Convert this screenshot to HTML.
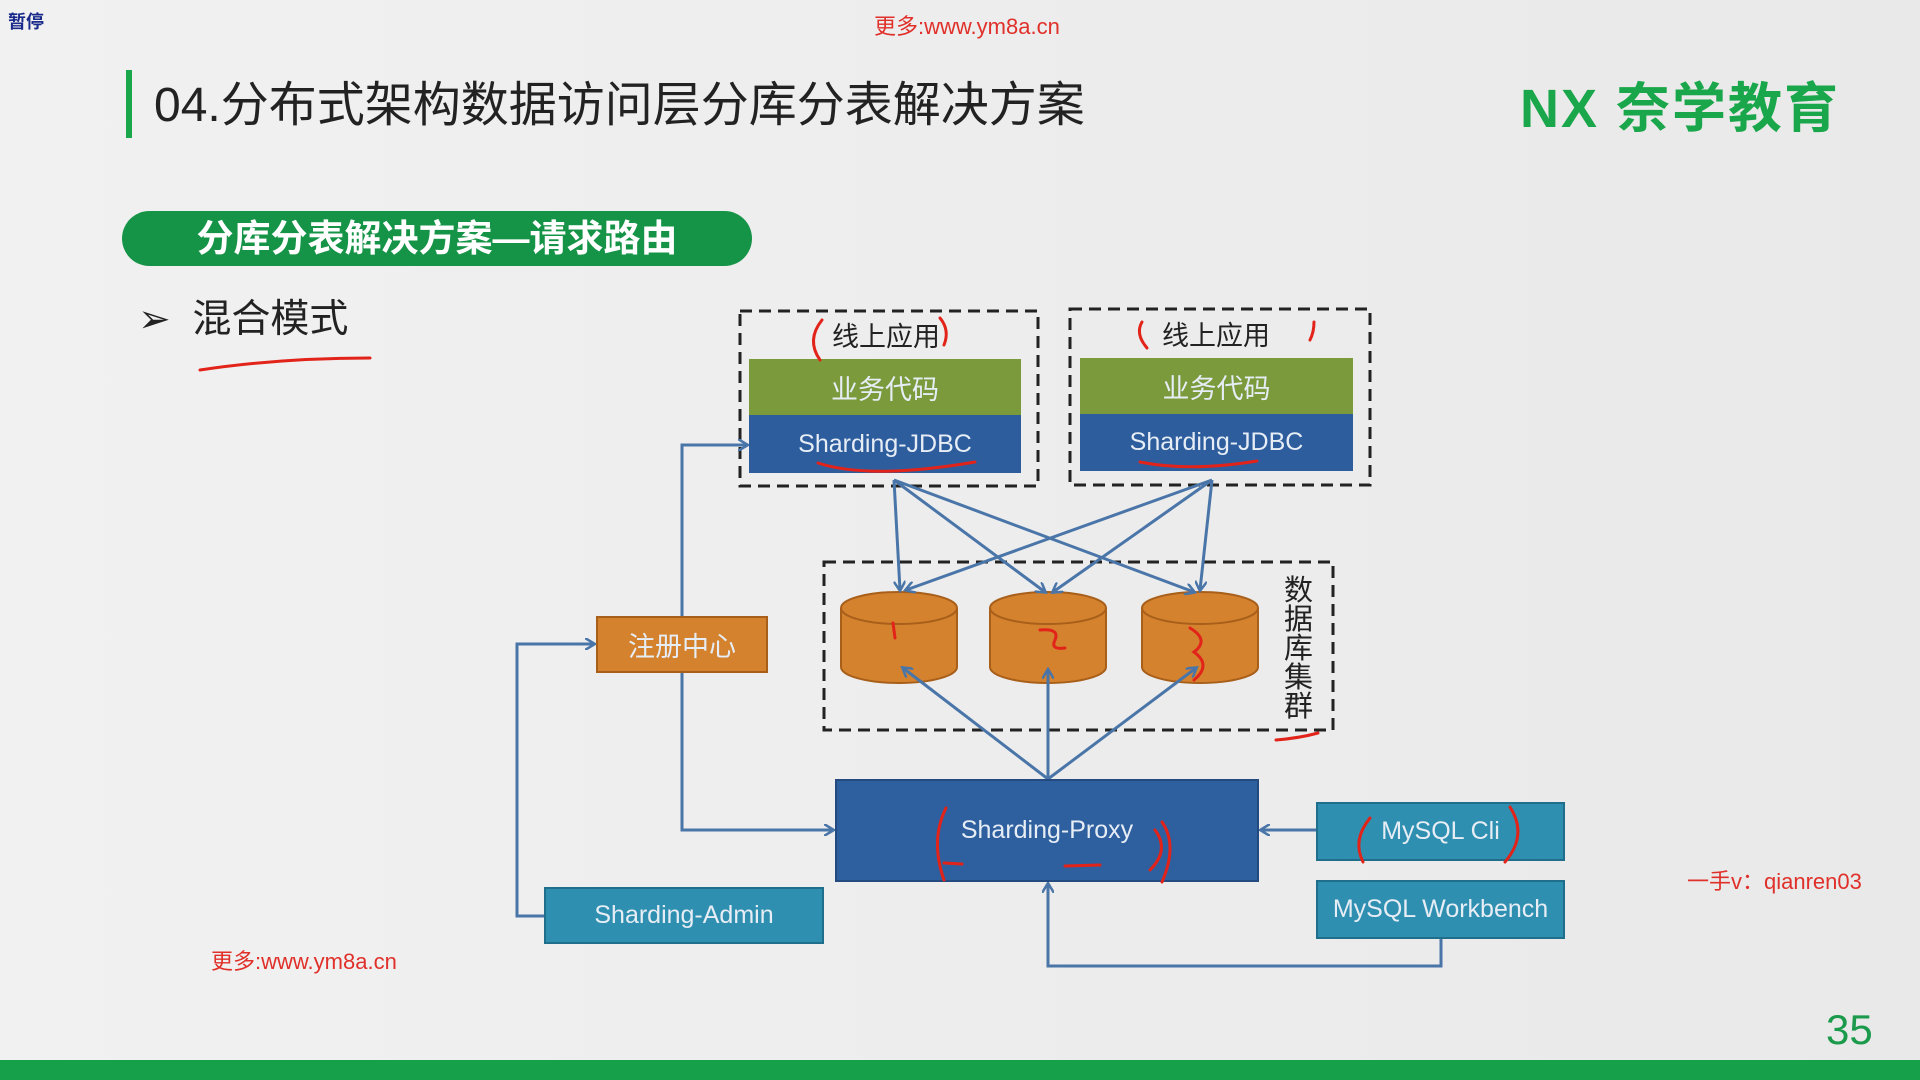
<!DOCTYPE html>
<html><head><meta charset="utf-8"><style>
body{margin:0;width:1920px;height:1080px;overflow:hidden;background:linear-gradient(90deg,#f1f1f1,#e9e9e9);font-family:"Liberation Sans","Noto Sans CJK SC",sans-serif;position:relative}
.a{position:absolute}
.box{position:absolute;display:flex;align-items:center;justify-content:center;color:#e6edf5;font-size:25px;box-sizing:border-box}
</style></head><body>
<div class="a" style="left:8px;top:8px;font-size:18px;font-weight:bold;color:#1a2a8a">暂停</div>
<div class="a" style="left:874px;top:9px;font-size:22px;color:#e0302a">更多:www.ym8a.cn</div>
<div class="a" style="left:126px;top:70px;width:6px;height:68px;background:#1aa64a"></div>
<div class="a" style="left:154px;top:65px;font-size:48px;color:#222">04.分布式架构数据访问层分库分表解决方案</div>
<div class="a" style="left:1520px;top:64px;font-size:54px;font-weight:bold;color:#1aa64a;letter-spacing:2px">NX 奈学教育</div>
<div class="a" style="left:122px;top:211px;width:630px;height:55px;border-radius:28px;background:#159447;color:#fff;font-size:37px;font-weight:bold;line-height:55px;text-align:center">分库分表解决方案—请求路由</div>
<div class="a" style="left:138px;top:288px;font-size:39px;color:#222">➢ &nbsp;混合模式</div>
<div class="a" style="left:211px;top:944px;font-size:22px;color:#e0302a">更多:www.ym8a.cn</div>
<div class="a" style="left:1687px;top:864px;font-size:22px;color:#e0302a">一手v：qianren03</div>
<div class="a" style="left:1826px;top:1006px;font-size:42px;color:#1a9a4a">35</div>
<div class="a" style="left:0;top:1060px;width:1920px;height:20px;background:#16a04a"></div>

<svg class="a" style="left:0;top:0" width="1920" height="1080">
<defs><marker id="ar" markerWidth="12" markerHeight="12" refX="9" refY="6" orient="auto" markerUnits="userSpaceOnUse"><path d="M0,0 L10,6 L0,12" fill="none" stroke="#4a75a8" stroke-width="2.5"/></marker></defs>
<g fill="none" stroke="#222" stroke-width="3" stroke-dasharray="12,7">
<rect x="740" y="311" width="298" height="175"/>
<rect x="1070" y="309" width="300" height="176"/>
<rect x="824" y="562" width="509" height="168"/>
</g>
<g fill="#d4822e" stroke="#a85f1a" stroke-width="2">
<path d="M841,608 V667 A58,16 0 0 0 957,667 V608"/><ellipse cx="899" cy="608" rx="58" ry="16"/>
<path d="M990,608 V667 A58,16 0 0 0 1106,667 V608"/><ellipse cx="1048" cy="608" rx="58" ry="16"/>
<path d="M1142,608 V667 A58,16 0 0 0 1258,667 V608"/><ellipse cx="1200" cy="608" rx="58" ry="16"/>
</g>
<g fill="none" stroke="#4a75a8" stroke-width="3" marker-end="url(#ar)">
<path d="M682,616 V445 H747"/>
<path d="M682,673 V830 H833"/>
<path d="M544,916 H517 V644 H594"/>
<path d="M1048,779 L903,668"/><path d="M1048,779 L1048,670"/><path d="M1048,779 L1196,668"/>
<path d="M1316,830 H1261"/>
<path d="M1441,939 V966 H1048 V884"/>
<path d="M894,480 L900,590"/><path d="M894,480 L1045,592"/><path d="M894,480 L1194,592"/>
<path d="M1212,480 L906,590"/><path d="M1212,480 L1053,592"/><path d="M1212,480 L1200,590"/>
</g>
</svg>
<div class="box" style="left:749px;top:359px;width:272px;height:56px;background:#7a9a3c;font-size:27px">业务代码</div>
<div class="box" style="left:749px;top:415px;width:272px;height:58px;background:#2e5d9e">Sharding-JDBC</div>
<div class="box" style="left:1080px;top:358px;width:273px;height:56px;background:#7a9a3c;font-size:27px">业务代码</div>
<div class="box" style="left:1080px;top:414px;width:273px;height:57px;background:#2e5d9e">Sharding-JDBC</div>
<div class="a" style="left:832px;top:315px;font-size:27px;color:#222">线上应用</div>
<div class="a" style="left:1162px;top:314px;font-size:27px;color:#222">线上应用</div>
<div class="a" style="left:1284px;top:577px;width:30px;font-size:29px;line-height:29px;color:#222">数据库集群</div>
<div class="box" style="left:596px;top:616px;width:172px;height:57px;background:#d4822e;border:2px solid #a85f1a;font-size:27px">注册中心</div>
<div class="box" style="left:835px;top:779px;width:424px;height:103px;background:#2e5f9e;border:2px solid #234b80">Sharding-Proxy</div>
<div class="box" style="left:1316px;top:802px;width:249px;height:59px;background:#2f8fb0;border:2px solid #1f6f8c">MySQL Cli</div>
<div class="box" style="left:1316px;top:880px;width:249px;height:59px;background:#2f8fb0;border:2px solid #1f6f8c">MySQL Workbench</div>
<div class="box" style="left:544px;top:887px;width:280px;height:57px;background:#2f8fb0;border:2px solid #1f6f8c">Sharding-Admin</div>
<svg class="a" style="left:0;top:0" width="1920" height="1080">
<g fill="none" stroke="#e2231a" stroke-width="3" stroke-linecap="round">
<path d="M200,370 Q280,358 370,358"/>
<path d="M822,320 Q806,340 820,360"/><path d="M940,318 Q950,330 944,345"/>
<path d="M1142,322 Q1135,334 1147,348"/><path d="M1314,322 Q1314,332 1310,340"/>
<path d="M818,463 Q870,480 975,462"/><path d="M1140,462 Q1190,472 1257,461"/>
<path d="M893,623 L895,638"/><path d="M1040,630 Q1060,628 1055,640 Q1050,650 1065,648"/>
<path d="M1190,628 Q1210,640 1194,652 Q1212,665 1194,680"/>
<path d="M1276,740 Q1300,738 1318,733"/>
<path d="M946,808 Q930,840 944,880 M944,863 L962,864"/><path d="M1065,866 L1100,865"/><path d="M1155,830 Q1170,850 1150,870 M1162,822 Q1178,845 1162,882"/>
<path d="M1370,818 Q1352,840 1363,862"/><path d="M1510,807 Q1528,835 1505,862"/>
</g>
</svg>
</body></html>
